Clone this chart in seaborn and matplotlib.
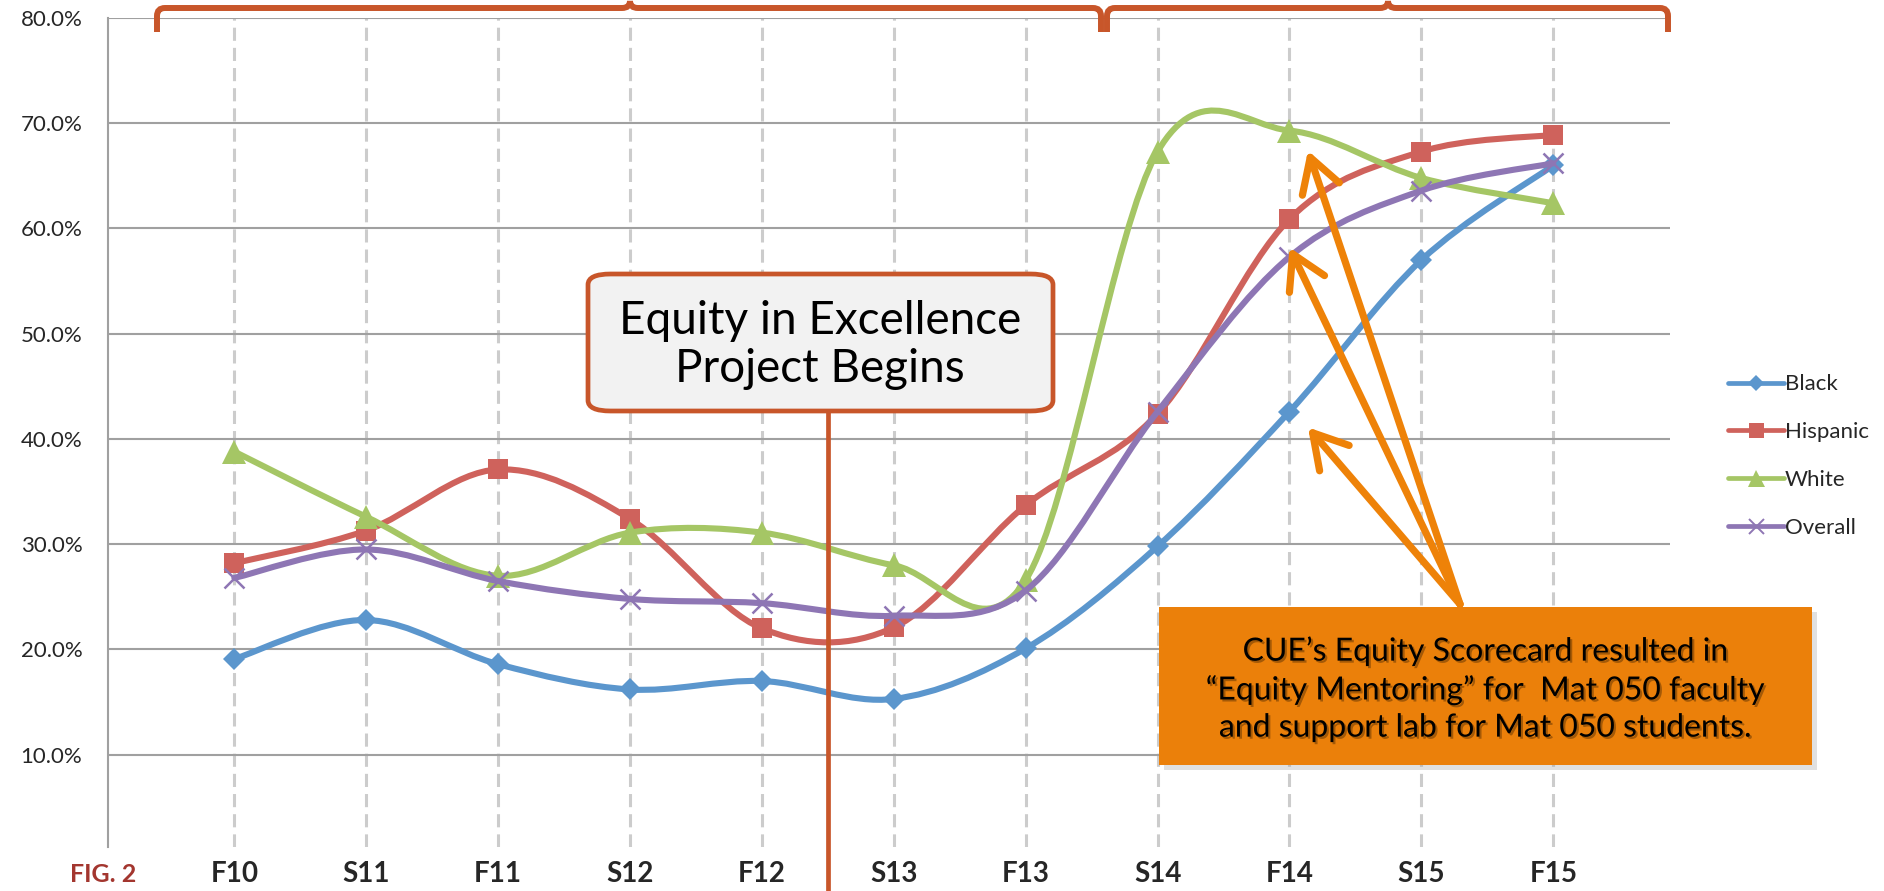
import numpy as np
import pandas as pd
import seaborn as sns
import matplotlib.pyplot as plt
from matplotlib.path import Path
from matplotlib.patches import PathPatch, FancyBboxPatch, Rectangle
from matplotlib.lines import Line2D
import matplotlib.patheffects as pe

# Data (% of students passing)
terms = ["F10", "S11", "F11", "S12", "F12", "S13", "F13", "S14", "F14", "S15", "F15"]
black = [19.1, 22.8, 18.6, 16.2, 17.0, 15.3, 20.1, 29.8, 42.6, 57.0, 66.0]
hispanic = [28.2, 31.3, 37.1, 32.4, 22.0, 22.1, 33.7, 42.4, 60.9, 67.3, 68.9]
white = [38.8, 32.6, 27.0, 31.1, 31.1, 28.0, 26.6, 67.3, 69.3, 64.8, 62.4]
overall = [26.8, 29.5, 26.5, 24.8, 24.4, 23.2, 25.6, 42.6, 57.3, 63.6, 66.2]

series_names = ["Black", "Hispanic", "White", "Overall"]
series_colors = ["#5B96CD", "#CF625C", "#A5C665", "#8E76B4"]
series_markers = ["D", "s", "^", "x"]
series_msize = [11.5, 15, 17, 15]

W, H = 1884, 891
ORANGE_RED = "#C8562A"
ORANGE = "#EE8208"


def fx(px):
    return px / W


def fy(py):
    return 1 - py / H


def smooth_path(xs, ys):
    """Excel-like smoothed line: Catmull-Rom segments as cubic Beziers."""
    pts = np.column_stack([xs, ys]).astype(float)
    n = len(pts)
    verts = [pts[0]]
    codes = [Path.MOVETO]
    for i in range(n - 1):
        p0 = pts[i - 1] if i > 0 else pts[i]
        p1, p2 = pts[i], pts[i + 1]
        p3 = pts[i + 2] if i + 2 < n else pts[i + 1]
        verts += [p1 + (p2 - p0) / 6, p2 - (p3 - p1) / 6, p2]
        codes += [Path.CURVE4] * 3
    return Path(verts, codes)


def brace_path(x0, x1, xm):
    """Curly brace along the top of the figure, pixel coordinates."""
    yt, ye, yc, r = 8, 32, 1, 8
    v = [(x0, ye), (x0, yt + r), (x0, yt), (x0 + r, yt), (xm - r, yt),
         (xm, yt), (xm, yc), (xm, yt), (xm + r, yt), (x1 - r, yt),
         (x1, yt), (x1, yt + r), (x1, ye)]
    c = [Path.MOVETO, Path.LINETO, Path.CURVE3, Path.CURVE3, Path.LINETO,
         Path.CURVE3, Path.CURVE3, Path.CURVE3, Path.CURVE3, Path.LINETO,
         Path.CURVE3, Path.CURVE3, Path.LINETO]
    return Path([(fx(a), fy(b)) for a, b in v], c)


sns.set_style("white")
plt.rcParams["font.family"] = ["Lato", "DejaVu Sans"]

x = np.arange(len(terms))
df = pd.DataFrame({"term": terms, "x": x, "Black": black, "Hispanic": hispanic,
                   "White": white, "Overall": overall})

fig = plt.figure(figsize=(W / 100, H / 100), dpi=100)
ax = fig.add_axes([fx(108), fy(847), fx(1670) - fx(108), fy(18) - fy(847)])

# smoothed lines and markers
for i, (name, color, mk, ms) in enumerate(zip(series_names, series_colors,
                                               series_markers, series_msize)):
    ax.add_patch(PathPatch(smooth_path(df["x"], df[name]), fill=False,
                           edgecolor=color, lw=4.4, zorder=3 + i * 0.1,
                           capstyle="round", joinstyle="round"))
    sns.lineplot(data=df, x="x", y=name, ax=ax, color=color, marker=mk,
                 markersize=ms, linestyle="none", markeredgewidth=1.8 if mk == "x" else 0,
                 markeredgecolor=color, zorder=3.05 + i * 0.1, legend=False)

ax.set_xlim(-0.958, 10.885)
ax.set_ylim(1.23, 80)
ax.set_yticks(np.arange(10, 81, 10))
ax.set_yticklabels([f"{v:.1f}%" for v in np.arange(10, 81, 10)], fontsize=16)
ax.set_xticks(x)
ax.set_xticklabels(terms, fontsize=20, fontweight="bold")
ax.set_xlabel("")
ax.set_ylabel("")
ax.tick_params(axis="y", length=6.5, width=1.5, color="#A0A0A0", pad=12)
ax.tick_params(axis="x", length=0, pad=10)

ax.grid(axis="y", color="#A0A0A0", lw=1.5)
ax.grid(axis="x", color="#CCCCCC", lw=2.2, dashes=(4.3, 2.3))
ax.set_axisbelow(True)
for s in ["top", "right", "bottom"]:
    ax.spines[s].set_visible(False)
ax.spines["left"].set_color("#A0A0A0")
ax.spines["left"].set_linewidth(1.5)

# legend
handles = [Line2D([], [], color=c, lw=3.4, marker=m, markersize=ms * 0.72,
                  markeredgewidth=1.4 if m == "x" else 0, markeredgecolor=c)
           for c, m, ms in zip(series_colors, series_markers, series_msize)]
fig.legend(handles, series_names, loc="center left",
           bbox_to_anchor=(fx(1728), fy(456)), frameon=False, fontsize=16,
           handlelength=2.5, handletextpad=0.05, labelspacing=1.25,
           borderpad=0, borderaxespad=0)

# project start marker
ax.axvline(4.5, ymin=-0.06, ymax=0.526, color=ORANGE_RED, lw=3.4, clip_on=False,
           zorder=6)
box = FancyBboxPatch((fx(588), fy(411)), fx(1053) - fx(588), fy(274) - fy(411),
                     boxstyle="round,pad=0,rounding_size=0.012",
                     transform=fig.transFigure, facecolor="#F2F2F2",
                     edgecolor=ORANGE_RED, lw=3.4, zorder=7)
fig.add_artist(box)
fig.text(fx(820), fy(345), "Equity in Excellence\nProject Begins", ha="center",
         va="center", fontsize=33, color="black", linespacing=1.2, zorder=8)

# braces at the top
for x0, x1, xm in [(157, 1101, 630), (1107, 1668, 1388)]:
    fig.add_artist(PathPatch(brace_path(x0, x1, xm), fill=False,
                             edgecolor=ORANGE_RED, lw=4.3, transform=fig.transFigure,
                             zorder=8, capstyle="butt"))

# orange callout with arrows
arrow_start = (9.293, 24.3)
arrow_tips = [(8.14, 67.4), (8.0, 58.2), (8.14, 41.1)]
for tip in arrow_tips:
    ax.annotate("", xy=tip, xytext=arrow_start,
                arrowprops=dict(arrowstyle="->,head_length=1.2,head_width=0.7",
                                color=ORANGE, lw=5.2, shrinkA=0, shrinkB=0,
                                mutation_scale=20, capstyle="round",
                                joinstyle="round"),
                zorder=9)

fig.add_artist(Rectangle((fx(1164), fy(770)), fx(1812) - fx(1159), fy(607) - fy(765),
                         transform=fig.transFigure, facecolor="#999999",
                         alpha=0.3, lw=0, zorder=9.5))
fig.add_artist(Rectangle((fx(1159), fy(765)), fx(1812) - fx(1159), fy(607) - fy(765),
                         transform=fig.transFigure, facecolor="#EB800A",
                         lw=0, zorder=10))
fig.text(fx(1486), fy(689),
         "CUE\u2019s Equity Scorecard resulted in\n"
         "\u201cEquity Mentoring\u201d for  Mat 050 faculty\n"
         "and support lab for Mat 050 students.",
         ha="center", va="center", fontsize=23, color="black", linespacing=1.3,
         zorder=11,
         path_effects=[pe.SimplePatchShadow(offset=(1.5, -1.5), shadow_rgbFace="black",
                                            alpha=0.3), pe.Normal()])

fig.text(fx(70), fy(875), "FIG. 2", ha="left", va="center", fontsize=18,
         fontweight="bold", color="#A3362F")

fig.savefig("out.png", dpi=100)
